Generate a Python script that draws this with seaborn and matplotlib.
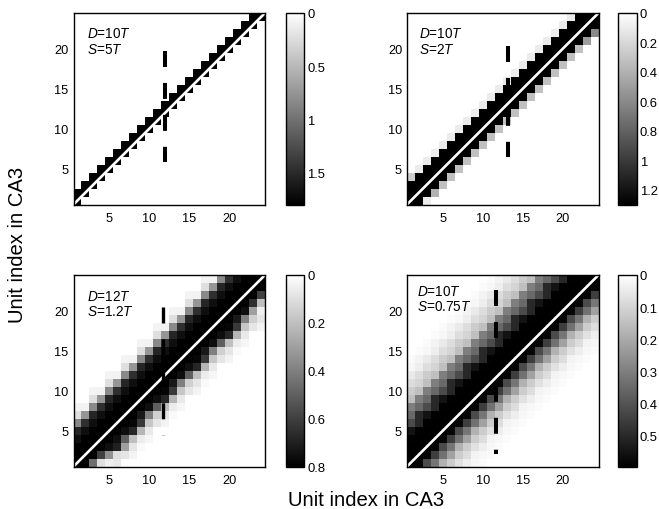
import matplotlib
matplotlib.use('Agg')
import matplotlib.pyplot as plt
import seaborn as sns
import numpy as np

sns.set_style('white')
plt.rcParams['font.family'] = ['Liberation Sans', 'DejaVu Sans']
plt.rcParams['mathtext.fontset'] = 'custom'
plt.rcParams['mathtext.it'] = 'Liberation Sans:italic'
plt.rcParams['mathtext.rm'] = 'Liberation Sans'
plt.rcParams['text.color'] = 'black'
plt.rcParams['xtick.color'] = 'black'
plt.rcParams['ytick.color'] = 'black'
plt.rcParams['lines.scale_dashes'] = False

n_units = 24
unit_ticks = [5, 10, 15, 20]

# weight by distance from the diagonal: upper lists go by column, lower lists by row
p1_up = [[1.8, 1.8]]
p1_low = [[1.8]]

p2_up = [[1.3, 1.3, 1.3, 0.1]]
p2_low = [[1.3, 1.3, 0.32]]

p3_up = [[0.8, 0.8, 0.8, 0.75, 0.65, 0.33, 0.04],
         [0.8, 0.8, 0.8, 0.75, 0.68, 0.37, 0.1, 0.04]]
p3_low = [[0.8, 0.8, 0.75, 0.5, 0.2, 0.06, 0.03],
          [0.8, 0.8, 0.75, 0.68, 0.23, 0.07],
          [0.8, 0.8, 0.78, 0.62, 0.18, 0.08, 0.04],
          [0.8, 0.8, 0.72, 0.4, 0.15, 0.08, 0.02]]

p4_up = [[0.6, 0.6, 0.6, 0.59, 0.5, 0.5, 0.35, 0.3, 0.15, 0.1, 0.08, 0.04, 0.03, 0.01],
         [0.6, 0.6, 0.6, 0.59, 0.55, 0.42, 0.35, 0.3, 0.15, 0.12, 0.08, 0.05, 0.02, 0.01]]
p4_low = [[0.6, 0.58, 0.45, 0.33, 0.22, 0.12, 0.08, 0.03, 0.02, 0.01],
          [0.6, 0.58, 0.42, 0.32, 0.18, 0.12, 0.07, 0.04, 0.02, 0.01]]

# cells that break the repeat, at the two ends of the band: row, column, value
p2_cells = [(4, 1, 0.25), (1, 3, 0.1), (2, 4, 0.4), (21, 23, 0.5), (22, 24, 0.6)]
p3_cells = [(1, 3, 0.45), (1, 4, 0.1), (1, 5, 0.05), (2, 4, 0.6), (2, 5, 0.35), (2, 6, 0.1),
            (3, 5, 0.75), (3, 6, 0.7), (3, 7, 0.3), (22, 24, 0.6), (21, 24, 0.2), (20, 24, 0.05),
            (21, 23, 0.65), (20, 23, 0.3)]

label_d = [r'$D$=10$T$', r'$D$=10$T$', r'$D$=12$T$', r'$D$=10$T$']
label_s = [r'$S$=5$T$', r'$S$=2$T$', r'$S$=1.2$T$', r'$S$=0.75$T$']
vmax_vals = [1.8, 1.3, 0.8, 0.595]
cbar_ticks = [[0, 0.5, 1, 1.5],
              [0, 0.2, 0.4, 0.6, 0.8, 1, 1.2],
              [0, 0.2, 0.4, 0.6, 0.8],
              [0, 0.1, 0.2, 0.3, 0.4, 0.5]]
cbar_labels = [['0', '0.5', '1', '1.5'],
               ['0', '0.2', '0.4', '0.6', '0.8', '1', '1.2'],
               ['0', '0.2', '0.4', '0.6', '0.8'],
               ['0', '0.1', '0.2', '0.3', '0.4', '0.5']]

# dashed marker: x position, then top and bottom end
dash_x = [12, 13.1, 11.75, 11.6]
dash_top = [19.7, 20.4, 20.46, 22.6]
dash_bottom = [5.8, 6.4, 4.4, 2.1]


def band_matrix(up, low, cells=()):
    m = np.zeros((n_units, n_units))
    for r in range(1, n_units + 1):
        for c in range(1, n_units + 1):
            d = r - c
            if d >= 0:
                vals = up[c % len(up)]
                if d < len(vals):
                    m[r - 1, c - 1] = vals[d]
            else:
                vals = low[r % len(low)]
                if -d < len(vals):
                    m[r - 1, c - 1] = vals[-d]
    for r, c, v in cells:
        m[r - 1, c - 1] = v
    return m


matrices = [band_matrix(p1_up, p1_low),
            band_matrix(p2_up, p2_low, p2_cells),
            band_matrix(p3_up, p3_low, p3_cells),
            band_matrix(p4_up, p4_low)]

W, H = 659, 510
fig = plt.figure(figsize=(W / 100, H / 100), dpi=100)

ax_left = [73.5, 407, 73.5, 407]
ax_top = [14, 14, 276, 276]
cb_left = [285.5, 618, 285.5, 618]
ax_size = 191.5
cb_width = 18.5
text_dx = [13.5, 12, 13.5, 10]
text_dy = [20, 20, 21, 16]
dash_lw = [2.9, 2.9, 2.4, 2.9]

for i in range(4):
    ax = fig.add_axes([ax_left[i] / W, 1 - (ax_top[i] + ax_size) / H, ax_size / W, ax_size / H])
    cax = fig.add_axes([cb_left[i] / W, 1 - (ax_top[i] + ax_size) / H, cb_width / W, ax_size / H])

    sns.heatmap(matrices[i], ax=ax, cbar_ax=cax, cmap='gray_r', vmin=0, vmax=vmax_vals[i],
                square=False, xticklabels=False, yticklabels=False)
    ax.invert_yaxis()

    # heatmap cells are centred on i+0.5
    ax.plot([0, n_units], [0, n_units], color='white', lw=1.9, solid_capstyle='butt')
    ax.plot([dash_x[i] - 0.5] * 2, [dash_top[i] - 0.5, dash_bottom[i] - 0.5], color='black',
            lw=dash_lw[i], dashes=(11.5, 11.5), dash_capstyle='butt')

    tick_pos = [t - 0.5 for t in unit_ticks]
    ax.set_xticks(tick_pos)
    ax.set_yticks(tick_pos)
    ax.set_xticklabels(unit_ticks, rotation=0)
    ax.set_yticklabels(unit_ticks, rotation=0)
    ax.tick_params(direction='in', length=2.5, width=0.7, top=True, right=True, bottom=True, left=True,
                   labelsize=9.2, color='black')
    ax.tick_params(axis='x', pad=5.5)
    ax.tick_params(axis='y', pad=3.5)
    for s in ax.spines.values():
        s.set_visible(True)
        s.set_linewidth(1.0)
        s.set_color('black')

    tx = (ax_left[i] + text_dx[i]) / W
    fig.text(tx, 1 - (ax_top[i] + text_dy[i]) / H, label_d[i], fontsize=9.8, va='center', ha='left', zorder=5)
    fig.text(tx, 1 - (ax_top[i] + text_dy[i] + 15.5) / H, label_s[i], fontsize=9.8, va='center', ha='left', zorder=5)

    cax.invert_yaxis()
    cax.set_yticks(cbar_ticks[i])
    cax.set_yticklabels(cbar_labels[i])
    cax.tick_params(direction='in', length=2, width=0.7, right=True, left=True, labelleft=False,
                    labelright=True, labelsize=9.4, pad=2.5)
    cb = ax.collections[0].colorbar
    cb.outline.set_visible(True)
    cb.outline.set_linewidth(1.0)
    cb.outline.set_edgecolor('black')

fig.text(366 / W, 1 - 500.5 / H, 'Unit index in CA3', fontsize=14.6, ha='center', va='center')
fig.text(18 / W, 1 - 245 / H, 'Unit index in CA3', fontsize=14.6, ha='center', va='center', rotation=90)

fig.savefig('out.png', dpi=100)
